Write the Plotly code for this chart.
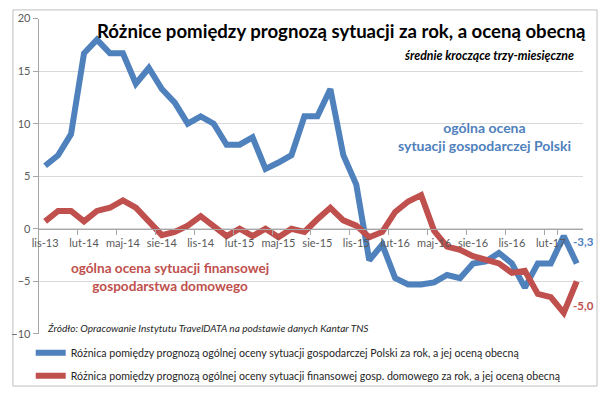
import plotly.graph_objects as go

months = ["lis-13", "gru-13", "sty-14", "lut-14", "mar-14", "kwi-14", "maj-14", "cze-14",
          "lip-14", "sie-14", "wrz-14", "paź-14", "lis-14", "gru-14", "sty-15", "lut-15",
          "mar-15", "kwi-15", "maj-15", "cze-15", "lip-15", "sie-15", "wrz-15", "paź-15",
          "lis-15", "gru-15", "sty-16", "lut-16", "mar-16", "kwi-16", "maj-16", "cze-16",
          "lip-16", "sie-16", "wrz-16", "paź-16", "lis-16", "gru-16", "sty-17", "lut-17",
          "mar-17", "kwi-17"]

tick_labels = ["lis-13", "lut-14", "maj-14", "sie-14", "lis-14", "lut-15", "maj-15",
               "sie-15", "lis-15", "lut-16", "maj-16", "sie-16", "lis-16", "lut-17"]

polska = [6.0, 7.0, 9.0, 16.7, 18.0, 16.7, 16.7, 13.8, 15.3, 13.3, 12.0, 10.0, 10.7, 10.0,
          8.0, 8.0, 8.7, 5.7, 6.3, 7.0, 10.7, 10.7, 13.3, 7.0, 4.2, -3.0, -1.5, -4.7,
          -5.3, -5.3, -5.1, -4.4, -4.7, -3.3, -3.1, -2.3, -3.3, -5.6, -3.3, -3.3, -0.7, -3.3]

domowe = [0.7, 1.7, 1.7, 0.7, 1.7, 2.0, 2.7, 2.0, 0.7, -0.6, -0.3, 0.3, 1.2, 0.3,
          -0.7, 0.0, -0.7, 0.0, -0.8, 0.0, -0.3, 0.9, 2.0, 0.8, 0.3, -0.8, -0.3, 1.6,
          2.6, 3.2, -0.2, -1.7, -2.0, -2.6, -3.0, -3.3, -4.2, -4.0, -6.2, -6.5, -8.0, -5.0]

name_polska = "Różnica pomiędzy prognozą ogólnej oceny sytuacji gospodarczej Polski za rok, a jej oceną obecną"
name_domowe = "Różnica pomiędzy prognozą ogólnej oceny sytuacji finansowej gosp. domowego za rok, a jej oceną obecną"

BLUE = "#4F81BD"
RED = "#C0504D"
FONT = "Lato"

Y_MIN, Y_MAX = -10, 20
Y_DOM = [1 - 338 / 394, 1 - 12 / 394]
X_DOM = [32 / 600, 583 / 600]
zero_pos = Y_DOM[0] + (0 - Y_MIN) / (Y_MAX - Y_MIN) * (Y_DOM[1] - Y_DOM[0])

fig = go.Figure()
fig.add_trace(go.Scatter(x=months, y=polska, mode="lines", name=name_polska,
                         legendgroup="a", line=dict(color=BLUE, width=6)))
fig.add_trace(go.Scatter(x=months, y=domowe, mode="lines", name=name_domowe,
                         legendgroup="b", line=dict(color=RED, width=6)))

fig.update_layout(
    width=600, height=394,
    margin=dict(l=0, r=0, t=0, b=0),
    paper_bgcolor="white", plot_bgcolor="white",
    font=dict(family=FONT, size=11, color="#595959"),
    showlegend=True,
    legend=dict(x=24 / 600, y=1 - 342.5 / 394, xanchor="left", yanchor="top",
                font=dict(family=FONT, size=10.6, color="#262626"),
                bgcolor="rgba(0,0,0,0)", itemwidth=30, tracegroupgap=4),
    xaxis=dict(type="category", domain=X_DOM, range=[-0.5, len(months) - 0.5],
               tickvals=tick_labels, ticktext=tick_labels, tickson="boundaries",
               tickangle=0, ticklabelstandoff=4,
               ticks="outside", ticklen=5, tickcolor="#A6A6A6",
               showgrid=False, showline=True, linecolor="#A6A6A6", linewidth=1,
               anchor="free", position=zero_pos, zeroline=False,
               tickfont=dict(family=FONT, size=11, color="#595959")),
    yaxis=dict(domain=Y_DOM, range=[Y_MIN, Y_MAX], dtick=5, tick0=0,
               showgrid=True, gridcolor="#D9D9D9", gridwidth=1,
               zeroline=False, showline=True, linecolor="#A6A6A6",
               ticks="outside", ticklen=5, tickcolor="#A6A6A6",
               tickfont=dict(family=FONT, size=11, color="#595959")),
)

# outer chart border
fig.add_shape(type="rect", xref="paper", yref="paper",
              x0=6 / 600, x1=597 / 600, y0=1 - 392 / 394, y1=1 - 3 / 394,
              line=dict(color="#BFBFBF", width=1), fillcolor="rgba(0,0,0,0)", layer="below")

def px(xp, yp):
    return xp / 600, 1 - yp / 394

x, y = px(338, 25)
fig.add_annotation(text="<b>Różnice pomiędzy prognozą sytuacji za rok, a oceną obecną</b>",
                   xref="paper", yref="paper", x=x, y=y, xanchor="center", yanchor="middle",
                   showarrow=False, font=dict(family=FONT, size=18.6, color="#000000"))
x, y = px(576, 50)
fig.add_annotation(text="<b><i>średnie kroczące trzy-miesięczne</i></b>",
                   xref="paper", yref="paper", x=x, y=y, xanchor="right", yanchor="middle",
                   showarrow=False, font=dict(family=FONT, size=12.3, color="#000000"))
x, y = px(483, 134)
fig.add_annotation(text="<b>ogólna ocena<br>sytuacji gospodarczej Polski</b>",
                   xref="paper", yref="paper", x=x, y=y, xanchor="center", yanchor="middle",
                   showarrow=False, align="center",
                   font=dict(family=FONT, size=14.0, color=BLUE))
x, y = px(165, 279)
fig.add_annotation(text="<b>ogólna ocena sytuacji finansowej<br>gospodarstwa domowego</b>",
                   xref="paper", yref="paper", x=x, y=y, xanchor="center", yanchor="middle",
                   showarrow=False, align="center",
                   font=dict(family=FONT, size=13.6, color=RED))
x, y = px(38, 331.5)
fig.add_annotation(text="<i>Źródło: Opracowanie Instytutu TravelDATA na podstawie danych Kantar TNS</i>",
                   xref="paper", yref="paper", x=x, y=y, xanchor="left", yanchor="middle",
                   showarrow=False, font=dict(family=FONT, size=10.1, color="#262626"))

# data labels for last points
fig.add_annotation(text="<b>-3,3</b>", x=months[-1], y=polska[-1], xref="x", yref="y",
                   xanchor="center", yanchor="middle", xshift=7, yshift=22, showarrow=False,
                   font=dict(family=FONT, size=11.5, color=BLUE))
fig.add_annotation(text="<b>-5,0</b>", x=months[-1], y=domowe[-1], xref="x", yref="y",
                   xanchor="center", yanchor="middle", xshift=7, yshift=-24, showarrow=False,
                   font=dict(family=FONT, size=11.5, color=RED))

fig.write_html("out.html", config={"displayModeBar": False},
               post_script="document.body.style.margin='0';document.body.style.overflow='hidden';")
